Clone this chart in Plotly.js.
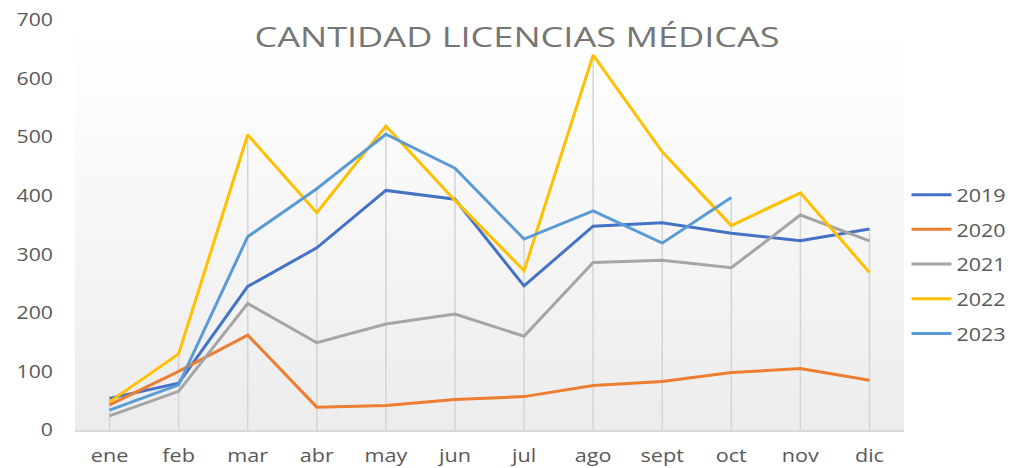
<!DOCTYPE html>
<html>
<head>
<meta charset="utf-8">
<script src="https://cdn.plot.ly/plotly-3.0.1.min.js"></script>
<style>
html,body{margin:0;padding:0;background:#fff;}
#chart{width:1017px;height:468px;}
#chart .gtitle{transform-box:fill-box;transform-origin:center;transform:scaleX(1.29);}
#chart .legendtext{transform-box:fill-box;transform-origin:left center;transform:scaleX(1.13);}
</style>
</head>
<body>
<div id="chart"></div>
<script>
const months = ["ene","feb","mar","abr","may","jun","jul","ago","sept","oct","nov","dic"];
const series2019 = [54, 80, 245, 311, 409, 394, 246, 348, 354, 336, 323, 343];
const series2020 = [43, 100, 162, 39, 42, 52, 57, 76, 83, 98, 105, 85];
const series2021 = [24, 66, 216, 149, 181, 198, 160, 286, 290, 277, 367, 323];
const series2022 = [48, 130, 504, 371, 519, 392, 272, 640, 475, 349, 405, 269];
const series2023 = [34, 77, 330, 412, 505, 447, 326, 374, 319, 397];
const seriesNames = ["2019","2020","2021","2022","2023"];
const seriesColors = ["#4472C4","#ED7D31","#A5A5A5","#FFC000","#5B9BD5"];
const yTicks = [0,100,200,300,400,500,600,700];

const allSeries = [series2019, series2020, series2021, series2022, series2023];

// Drop lines: from each category's highest value down to the axis
const dropX = [], dropY = [];
months.forEach((m, i) => {
  const vals = allSeries.map(s => s[i]).filter(v => v !== undefined);
  const top = Math.max(...vals);
  dropX.push(m, m, null);
  dropY.push(0, top, null);
});

const traces = [{
  type: "scatter", mode: "lines", x: dropX, y: dropY,
  line: {color: "#D4D4D4", width: 1.5}, showlegend: false, hoverinfo: "skip",
  connectgaps: false
}].concat(allSeries.map((vals, i) => ({
  type: "scatter",
  mode: "lines",
  x: months.slice(0, vals.length),
  y: vals,
  name: seriesNames[i],
  legendgroup: seriesNames[i],
  line: {color: seriesColors[i], width: 3},
  hoverinfo: "x+y+name"
})));

const grad = 'data:image/svg+xml;utf8,' + encodeURIComponent(
  '<svg xmlns="http://www.w3.org/2000/svg" width="100" height="100" preserveAspectRatio="none">' +
  '<defs><linearGradient id="g" x1="0" y1="0" x2="0" y2="1">' +
  '<stop offset="0" stop-color="#ffffff"/><stop offset="0.15" stop-color="#fdfdfd"/><stop offset="1" stop-color="#ececec"/>' +
  '</linearGradient></defs><rect width="100" height="100" fill="url(#g)"/></svg>');

const layout = {
  width: 1017,
  height: 468,
  margin: {l: 75, r: 105, t: 20, b: 38},
  paper_bgcolor: "#ffffff",
  plot_bgcolor: "rgba(0,0,0,0)",
  font: {family: "Open Sans, sans-serif", color: "#595959", size: 18},
  title: {
    text: "CANTIDAD LICENCIAS MÉDICAS",
    font: {family: "Open Sans, sans-serif", size: 28, color: "#767676"},
    x: (254 + 780) / 2 / 1017, xref: "container", xanchor: "center",
    y: 1 - 37/468, yref: "container", yanchor: "middle"
  },
  images: [{
    source: grad, xref: "paper", yref: "paper", x: 0, y: 1, sizex: 1, sizey: 1,
    sizing: "stretch", layer: "below", xanchor: "left", yanchor: "top"
  }],
  xaxis: {
    type: "category",
    categoryorder: "array",
    categoryarray: months,
    range: [-0.5, 11.5],
    showgrid: false,
    showline: true,
    linecolor: "#D9D9D9",
    linewidth: 1.5,
    ticks: "",
    tickfont: {size: 18, color: "#595959"},
    ticklabelstandoff: 9,
    zeroline: false,
    fixedrange: true
  },
  yaxis: {
    range: [0, 700],
    tickvals: yTicks,
    ticktext: yTicks.map(String),
    showgrid: false,
    showline: false,
    zeroline: false,
    ticks: "",
    tickfont: {size: 18, color: "#595959"},
    ticklabelstandoff: 21,
    fixedrange: true
  },
  showlegend: true,
  legend: {
    x: 1.003, xanchor: "left",
    y: 0.62, yanchor: "top",
    font: {size: 19, color: "#595959"},
    tracegroupgap: 7,
    bgcolor: "rgba(0,0,0,0)",
    itemwidth: 40
  }
};

// Widen tick label glyphs horizontally (around their anchor point) like the reference
function widen(selector, s) {
  document.querySelectorAll(selector).forEach(el => {
    const orig = el.getAttribute("transform") || "";
    const ax = parseFloat(el.getAttribute("x") || "0") || 0;
    el.setAttribute("transform",
      orig + " translate(" + ax + ",0) scale(" + s + ",1) translate(" + (-ax) + ",0)");
  });
}

Plotly.newPlot("chart", traces, layout, {displayModeBar: false, staticPlot: true}).then(() => {
  widen("#chart .xtick text", 1.2);
  widen("#chart .ytick text", 1.18);
});
</script>
</body>
</html>
